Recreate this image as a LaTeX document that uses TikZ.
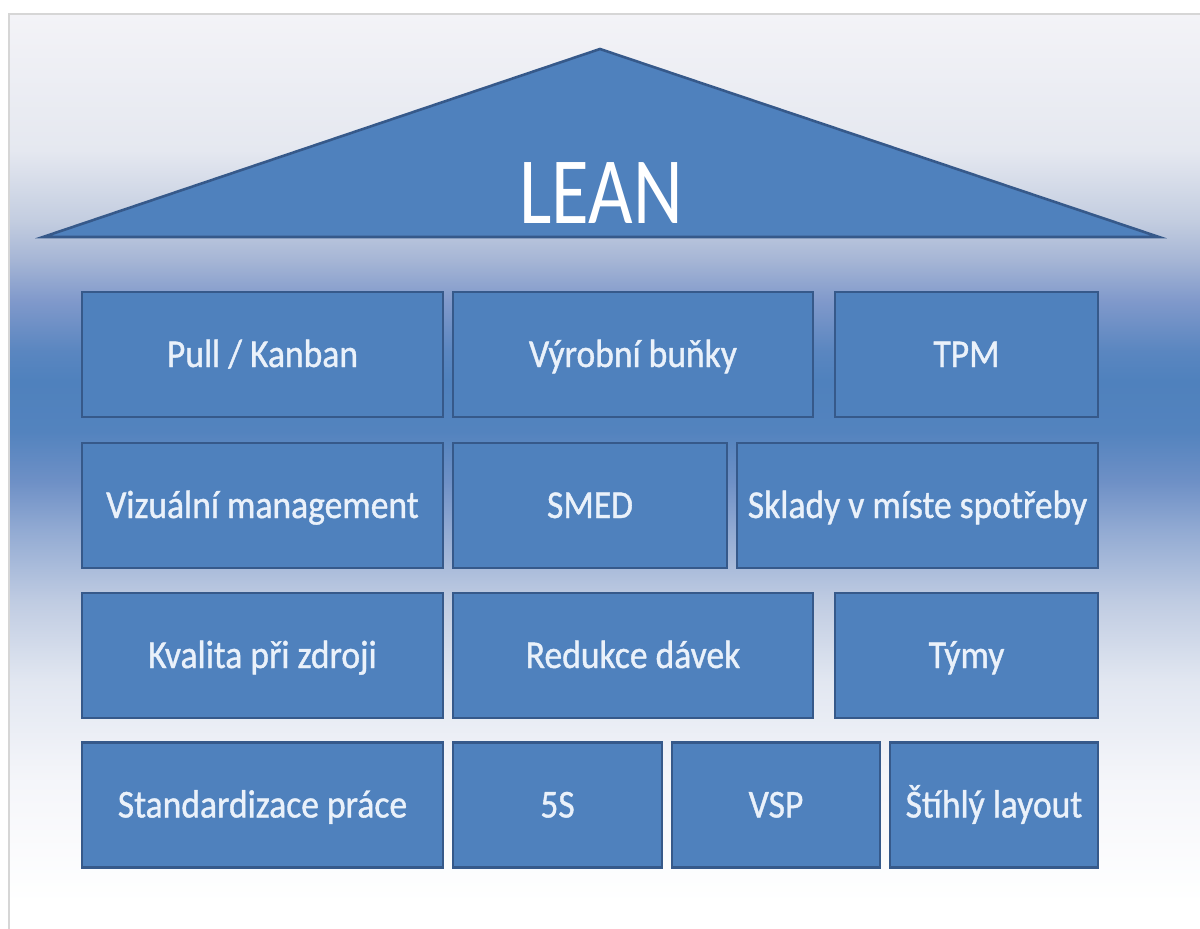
\documentclass[tikz,border=0pt]{standalone}
\usepackage{fontspec}
\newfontfamily\boxfont[FakeStretch=0.9, FakeBold=1]{Carlito}
\newfontfamily\titlefont[FakeStretch=0.81]{Carlito}

\definecolor{bgA}{HTML}{F3F3F7}
\definecolor{bgB}{HTML}{E5E8F0}
\definecolor{bgC}{HTML}{C3CDE0}
\definecolor{bgD}{HTML}{A5B5D5}
\definecolor{bgE}{HTML}{8099CB}
\definecolor{bgF}{HTML}{5A86C0}
\definecolor{bgG}{HTML}{4F81BD}
\definecolor{bgH}{HTML}{5383BE}
\definecolor{bgI}{HTML}{6E90C6}
\definecolor{bgJ}{HTML}{93ABD3}
\definecolor{bgK}{HTML}{C0CCE2}
\definecolor{bgL}{HTML}{E2E7F1}
\definecolor{bgM}{HTML}{F5F6FA}
\definecolor{boxfill}{HTML}{4F81BD}
\definecolor{boxline}{HTML}{36598A}
\definecolor{boxtext}{HTML}{EAF1FA}
\definecolor{framegray}{HTML}{D6D6D6}

% vertical backdrop: pale at top, full blue behind the upper rows, pale again below
\pgfdeclareverticalshading{backdrop}{100bp}{%
  color(0bp)=(white); color(26.58bp)=(white); color(33.14bp)=(bgM);
  color(38.61bp)=(bgL); color(42.98bp)=(bgK); color(46.8bp)=(bgJ);
  color(49.54bp)=(bgI); color(52.27bp)=(bgH); color(55bp)=(bgG);
  color(56.64bp)=(bgF); color(59.37bp)=(bgE); color(61.56bp)=(bgD);
  color(63.74bp)=(bgC); color(67.57bp)=(bgB); color(75bp)=(bgA);
  color(100bp)=(bgA)}

\tikzset{
  block/.style={draw=boxline, fill=boxfill, line width=2.8pt,
    minimum height=125pt, inner sep=0pt, text height=25pt, text depth=0pt,
    text=boxtext, font=\boxfont\fontsize{39.5}{40}\selectfont},
  roof/.style={draw=boxline, fill=boxfill, line width=2.6pt},
}

\begin{document}
\begin{tikzpicture}[x=1pt, y=-1pt]
  \useasboundingbox (0,0) rectangle (1200,929);
  % framed backdrop
  \shade[shading=backdrop] (9,14) rectangle (1203,932);
  \draw[framegray, line width=1.2pt] (9,932) -- (9,14) -- (1203,14);

  % roof
  \coordinate (roofL) at (43,237);
  \coordinate (roofT) at (600,49);
  \coordinate (roofR) at (1159,237);
  \draw[roof] (roofL) -- (roofT) -- (roofR) -- cycle;
  \node[text=white, font=\titlefont\fontsize{95}{96}\selectfont, anchor=base]
    (lean) at (601,223) {LEAN};

  % row 1
  \node[block, minimum width=361pt] (pull) at (262.5,354.5) {Pull / Kanban};
  \node[block, minimum width=360pt] (cells) at (633,354.5) {Výrobní buňky};
  \node[block, minimum width=263pt] (tpm) at (966.5,354.5) {TPM};
  % row 2
  \node[block, minimum width=361pt] (visual) at (262.5,505.5) {Vizuální management};
  \node[block, minimum width=274pt] (smed) at (590,505.5) {SMED};
  \node[block, minimum width=361pt] (stores) at (917.5,505.5) {Sklady v míste spotřeby};
  % row 3
  \node[block, minimum width=361pt] (quality) at (262.5,655.5) {Kvalita při zdroji};
  \node[block, minimum width=360pt] (batch) at (633,655.5) {Redukce dávek};
  \node[block, minimum width=263pt] (teams) at (966.5,655.5) {Týmy};
  % row 4
  \node[block, minimum width=361pt] (std) at (262.5,805) {Standardizace práce};
  \node[block, minimum width=209pt] (fives) at (557.5,805) {5S};
  \node[block, minimum width=208pt] (vsp) at (776,805) {VSP};
  \node[block, minimum width=208pt] (layout) at (994,805) {Štíhlý layout};
\end{tikzpicture}
\end{document}
